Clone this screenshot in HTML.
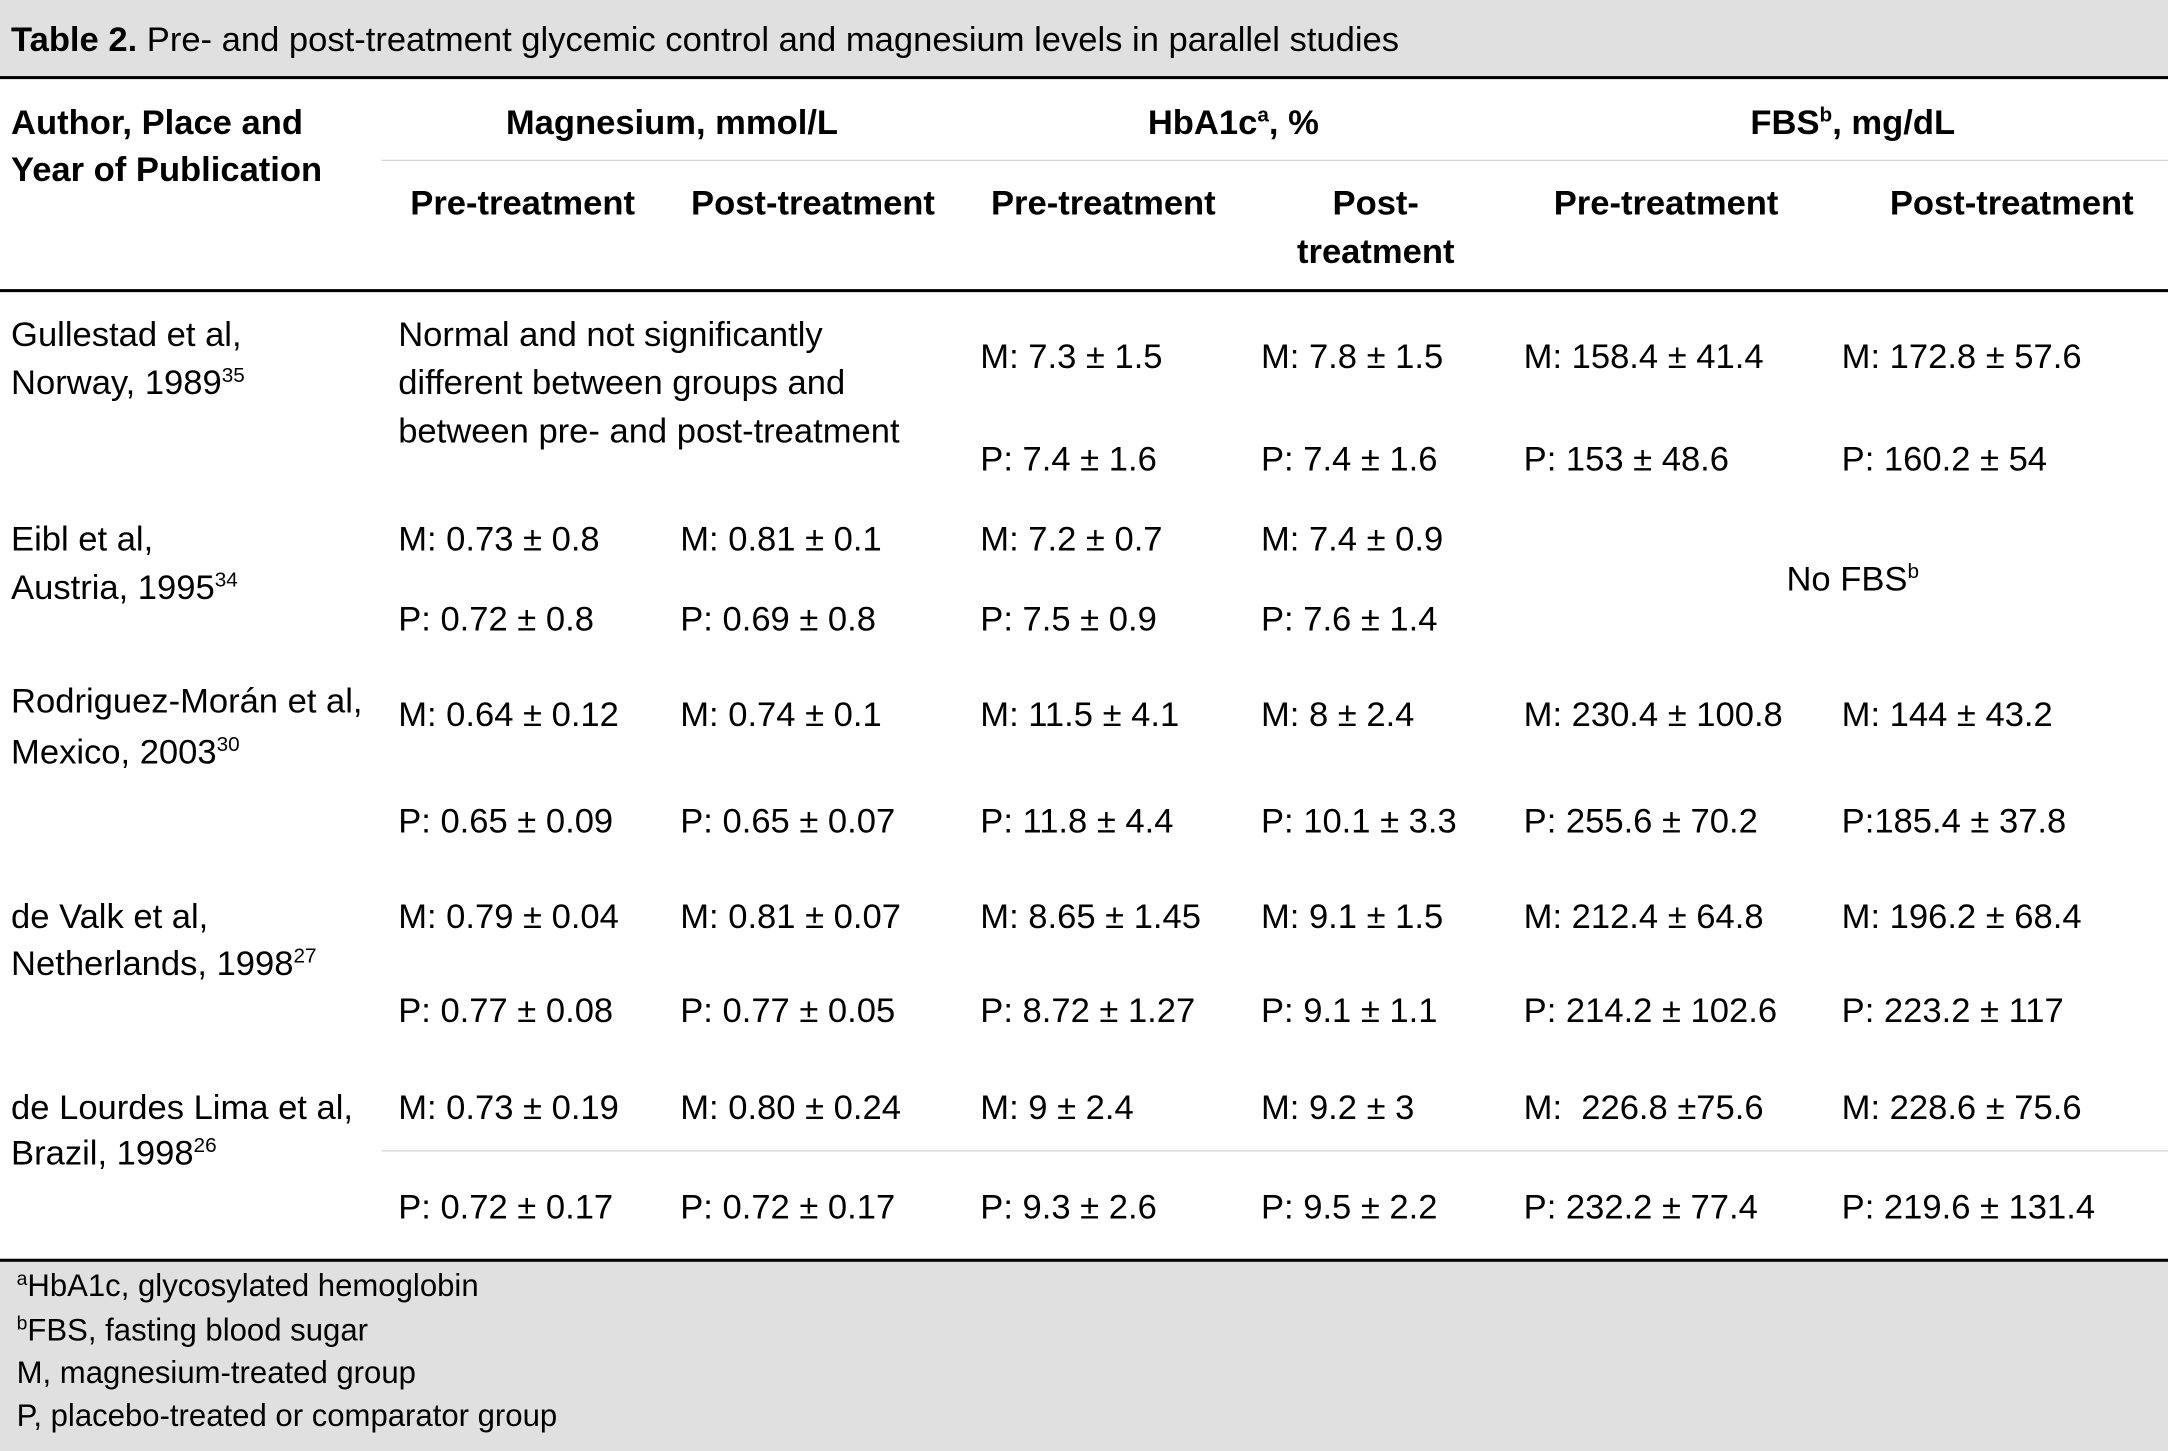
<!DOCTYPE html>
<html><head><meta charset="utf-8"><style>
html,body{margin:0;padding:0;background:#fff}
svg{display:block}
text{font-family:"Liberation Sans",Arial,sans-serif;fill:#000}
.b{font-weight:bold}
.r{font-size:25px}
.h{font-size:25px;font-weight:bold}
.f{font-size:22.5px}
</style></head><body>
<svg width="2168" height="1451" viewBox="0 0 1568 1049" preserveAspectRatio="none" xmlns="http://www.w3.org/2000/svg">
<rect x="0" y="0" width="1568" height="56" fill="#e0e0e0"/>
<rect x="0" y="55" width="1568" height="2.2" fill="#000"/>
<text x="8" y="37" style="font-size:25px"><tspan class="b">Table 2.</tspan>  Pre- and post-treatment glycemic control and magnesium levels in parallel studies</text>

<text class="h" x="8" y="97">Author, Place and</text>
<text class="h" x="8" y="131">Year of Publication</text>
<text class="h" x="486" y="97" text-anchor="middle">Magnesium, mmol/L</text>
<text class="h" x="892" y="97" text-anchor="middle">HbA1c<tspan font-size="15" dy="-9">a</tspan><tspan dy="9">, %</tspan></text>
<text class="h" x="1340" y="97" text-anchor="middle">FBS<tspan font-size="15" dy="-9">b</tspan><tspan dy="9">, mg/dL</tspan></text>
<rect x="276" y="115.5" width="1292" height="1" fill="#d8d8d8"/>
<text class="h" x="378" y="155" text-anchor="middle">Pre-treatment</text>
<text class="h" x="588" y="155" text-anchor="middle">Post-treatment</text>
<text class="h" x="798" y="155" text-anchor="middle">Pre-treatment</text>
<text class="h" x="995" y="155" text-anchor="middle">Post-</text>
<text class="h" x="995" y="190" text-anchor="middle">treatment</text>
<text class="h" x="1205" y="155" text-anchor="middle">Pre-treatment</text>
<text class="h" x="1455" y="155" text-anchor="middle">Post-treatment</text>
<rect x="0" y="209" width="1568" height="2.2" fill="#000"/>

<g class="r">
<text class="r" x="8" y="250">Gullestad et al,</text>
<text class="r" x="8" y="285">Norway, 1989<tspan font-size="15" dy="-9">35</tspan></text>
<text class="r" x="288" y="250">Normal and not significantly</text>
<text class="r" x="288" y="285">different between groups and</text>
<text class="r" x="288" y="320">between pre- and post-treatment</text>
<text class="r" x="709" y="266">M: 7.3 ± 1.5</text>
<text class="r" x="912" y="266">M: 7.8 ± 1.5</text>
<text class="r" x="1102" y="266">M: 158.4 ± 41.4</text>
<text class="r" x="1332" y="266">M: 172.8 ± 57.6</text>
<text class="r" x="709" y="340">P: 7.4 ± 1.6</text>
<text class="r" x="912" y="340">P: 7.4 ± 1.6</text>
<text class="r" x="1102" y="340">P: 153 ± 48.6</text>
<text class="r" x="1332" y="340">P: 160.2 ± 54</text>

<text class="r" x="8" y="398">Eibl et al,</text>
<text class="r" x="8" y="433">Austria, 1995<tspan font-size="15" dy="-9">34</tspan></text>
<text class="r" x="288" y="398">M: 0.73 ± 0.8</text>
<text class="r" x="492" y="398">M: 0.81 ± 0.1</text>
<text class="r" x="709" y="398">M: 7.2 ± 0.7</text>
<text class="r" x="912" y="398">M: 7.4 ± 0.9</text>
<text class="r" x="288" y="456">P: 0.72 ± 0.8</text>
<text class="r" x="492" y="456">P: 0.69 ± 0.8</text>
<text class="r" x="709" y="456">P: 7.5 ± 0.9</text>
<text class="r" x="912" y="456">P: 7.6 ± 1.4</text>
<text class="r" x="1340" y="427" text-anchor="middle">No FBS<tspan font-size="15" dy="-9">b</tspan></text>

<text class="r" x="8" y="515">Rodriguez-Morán et al,</text>
<text class="r" x="8" y="552">Mexico, 2003<tspan font-size="15" dy="-9">30</tspan></text>
<text class="r" x="288" y="525">M: 0.64 ± 0.12</text>
<text class="r" x="492" y="525">M: 0.74 ± 0.1</text>
<text class="r" x="709" y="525">M: 11.5 ± 4.1</text>
<text class="r" x="912" y="525">M: 8 ± 2.4</text>
<text class="r" x="1102" y="525">M: 230.4 ± 100.8</text>
<text class="r" x="1332" y="525">M: 144 ± 43.2</text>
<text class="r" x="288" y="602">P: 0.65 ± 0.09</text>
<text class="r" x="492" y="602">P: 0.65 ± 0.07</text>
<text class="r" x="709" y="602">P: 11.8 ± 4.4</text>
<text class="r" x="912" y="602">P: 10.1 ± 3.3</text>
<text class="r" x="1102" y="602">P: 255.6 ± 70.2</text>
<text class="r" x="1332" y="602">P:185.4 ± 37.8</text>

<text class="r" x="8" y="671">de Valk et al,</text>
<text class="r" x="8" y="705">Netherlands, 1998<tspan font-size="15" dy="-9">27</tspan></text>
<text class="r" x="288" y="671">M: 0.79 ± 0.04</text>
<text class="r" x="492" y="671">M: 0.81 ± 0.07</text>
<text class="r" x="709" y="671">M: 8.65 ± 1.45</text>
<text class="r" x="912" y="671">M: 9.1 ± 1.5</text>
<text class="r" x="1102" y="671">M: 212.4 ± 64.8</text>
<text class="r" x="1332" y="671">M: 196.2 ± 68.4</text>
<text class="r" x="288" y="739">P: 0.77 ± 0.08</text>
<text class="r" x="492" y="739">P: 0.77 ± 0.05</text>
<text class="r" x="709" y="739">P: 8.72 ± 1.27</text>
<text class="r" x="912" y="739">P: 9.1 ± 1.1</text>
<text class="r" x="1102" y="739">P: 214.2 ± 102.6</text>
<text class="r" x="1332" y="739">P: 223.2 ± 117</text>

<text class="r" x="8" y="809">de Lourdes Lima et al,</text>
<text class="r" x="8" y="842">Brazil, 1998<tspan font-size="15" dy="-9">26</tspan></text>
<text class="r" x="288" y="809">M: 0.73 ± 0.19</text>
<text class="r" x="492" y="809">M: 0.80 ± 0.24</text>
<text class="r" x="709" y="809">M: 9 ± 2.4</text>
<text class="r" x="912" y="809">M: 9.2 ± 3</text>
<text class="r" x="1102" y="809" xml:space="preserve">M:  226.8 ±75.6</text>
<text class="r" x="1332" y="809">M: 228.6 ± 75.6</text>
<rect x="276" y="831.5" width="1292" height="1" fill="#d8d8d8"/>
<text class="r" x="288" y="881">P: 0.72 ± 0.17</text>
<text class="r" x="492" y="881">P: 0.72 ± 0.17</text>
<text class="r" x="709" y="881">P: 9.3 ± 2.6</text>
<text class="r" x="912" y="881">P: 9.5 ± 2.2</text>
<text class="r" x="1102" y="881">P: 232.2 ± 77.4</text>
<text class="r" x="1332" y="881">P: 219.6 ± 131.4</text>
</g>

<rect x="0" y="912" width="1568" height="137" fill="#e0e0e0"/>
<rect x="0" y="910" width="1568" height="2.2" fill="#000"/>
<text class="f" x="12" y="937"><tspan font-size="14" dy="-8">a</tspan><tspan dy="8">HbA1c, glycosylated hemoglobin</tspan></text>
<text class="f" x="12" y="969"><tspan font-size="14" dy="-8">b</tspan><tspan dy="8">FBS, fasting blood sugar</tspan></text>
<text class="f" x="12" y="1000">M, magnesium-treated group</text>
<text class="f" x="12" y="1031">P, placebo-treated or comparator group</text>
</svg>
</body></html>
